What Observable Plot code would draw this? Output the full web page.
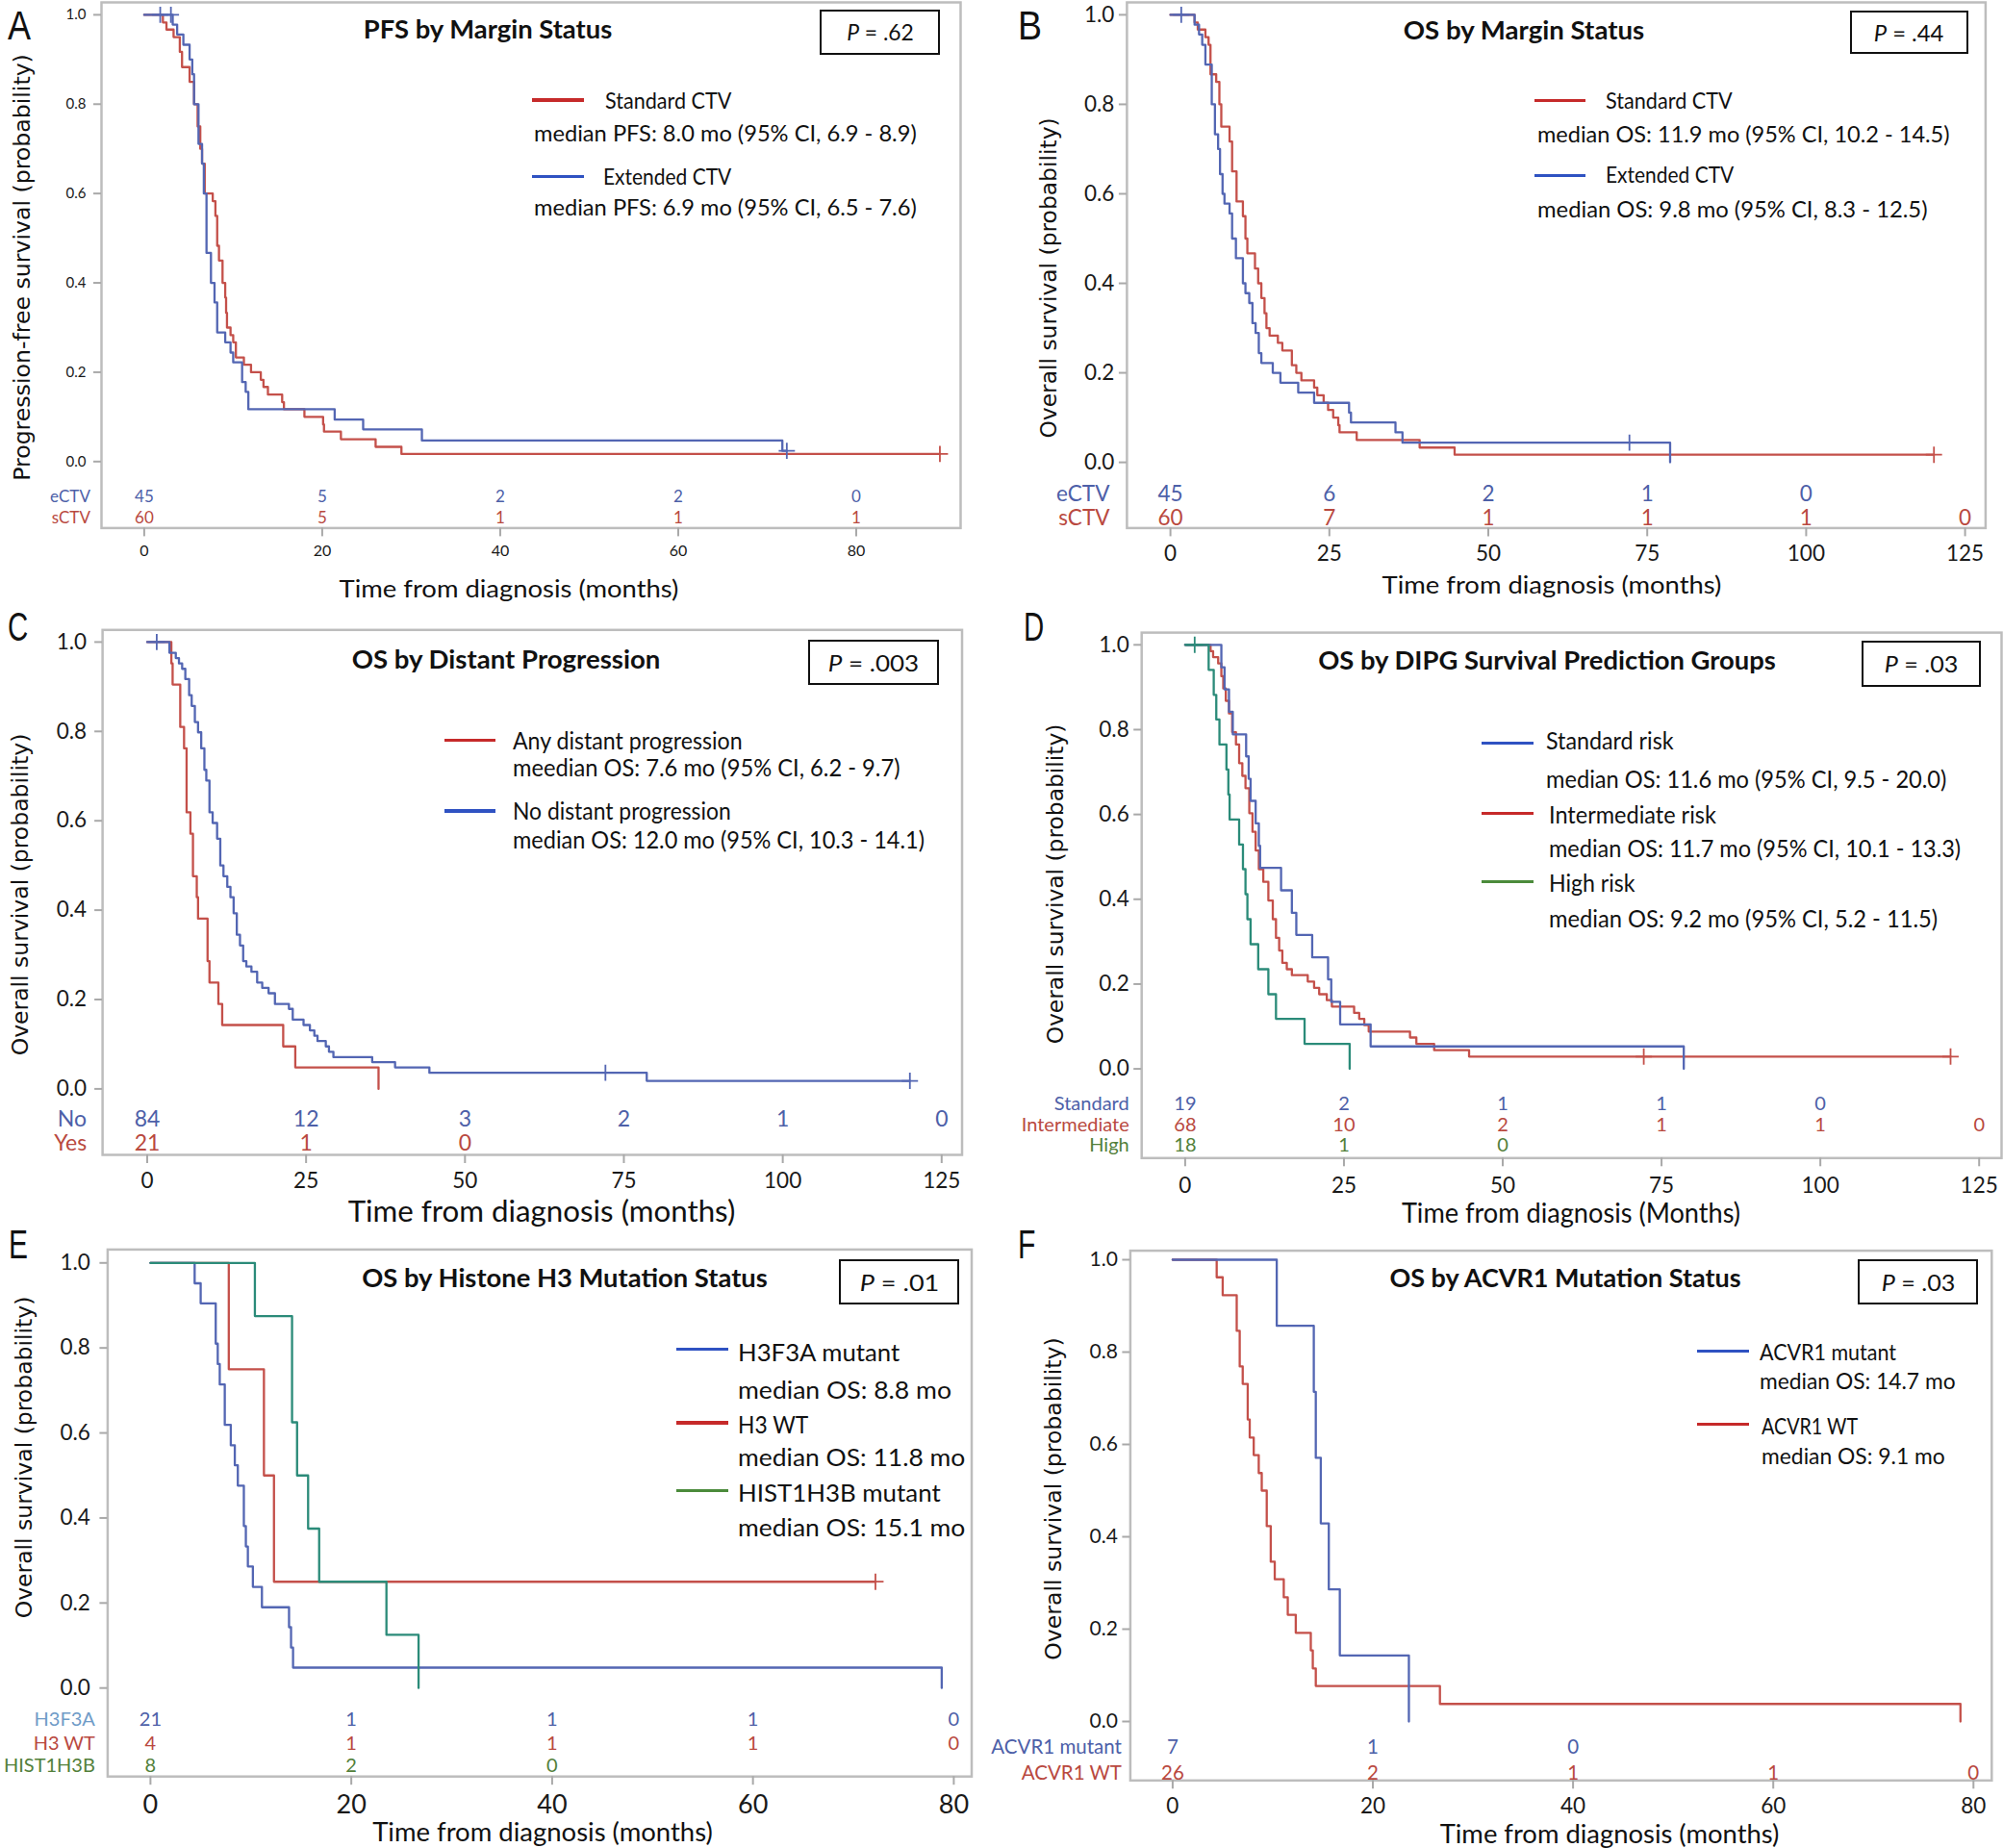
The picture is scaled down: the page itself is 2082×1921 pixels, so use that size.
<!DOCTYPE html>
<html><head><meta charset="utf-8">
<script src="https://cdn.jsdelivr.net/npm/d3@7"></script>
<script src="https://cdn.jsdelivr.net/npm/@observablehq/plot@0.6"></script>
<style>
html,body{margin:0;padding:0;background:#fff;}
#fig{position:relative;width:2082px;height:1921px;overflow:hidden;background:#fff;}
.t{position:absolute;white-space:nowrap;line-height:0.8;}
.ln{position:absolute;}
.pb{position:absolute;box-sizing:border-box;border:2.5px solid #111;background:#fff;}
svg{overflow:visible;}
</style></head>
<body><div id="fig"></div>
<script>
// ================= DATA =================
// Panel A: PFS by margin status
const aTicks = [0, 20, 40, 60, 80];
const aStdTimes = [2.1, 2.5, 3.3, 4.0, 4.25, 5.1, 5.6, 6.0, 6.3, 6.5, 6.8, 7.7, 8.0, 8.2, 8.4, 8.8, 9.1, 9.2, 9.3, 9.7, 10.0, 10.3, 11.2, 12.0, 13.1, 13.4, 13.9, 15.5, 15.7, 18.0, 20.1, 20.2, 22.1, 26.0, 28.9];
const aStdSurv = [0.983, 0.967, 0.95, 0.917, 0.883, 0.85, 0.8, 0.75, 0.7, 0.667, 0.6, 0.583, 0.55, 0.483, 0.45, 0.4, 0.367, 0.333, 0.3, 0.283, 0.267, 0.233, 0.217, 0.2, 0.183, 0.167, 0.15, 0.133, 0.117, 0.1, 0.083, 0.067, 0.05, 0.033, 0.017];
const aStdCensor = [89.4];
const aExtTimes = [3.2, 3.7, 4.4, 5.1, 5.4, 5.6, 6.1, 6.5, 6.7, 7.0, 7.5, 7.9, 8.2, 9.1, 9.7, 10.0, 11.0, 11.4, 11.7, 21.4, 24.6, 31.2, 71.7];
const aExtSurv = [0.978, 0.956, 0.933, 0.9, 0.867, 0.8, 0.711, 0.667, 0.6, 0.467, 0.4, 0.356, 0.289, 0.267, 0.244, 0.222, 0.178, 0.156, 0.117, 0.094, 0.072, 0.047, 0.024];
const aExtCensor = [1.8, 3.0, 72.2];
const aRiskExt = [45, 5, 2, 2, 0];
const aRiskStd = [60, 5, 1, 1, 1];

// Panel B: OS by margin status
const bTicks = [0, 25, 50, 75, 100, 125];
const bStdTimes = [3.8, 4.3, 5.5, 6.0, 6.3, 7.2, 7.7, 8.0, 9.3, 9.7, 10.4, 11.4, 11.8, 12.1, 13.3, 13.8, 14.3, 14.8, 15.1, 15.6, 16.9, 17.6, 19.1, 19.8, 20.6, 22.6, 23.1, 24.1, 24.8, 25.6, 26.4, 26.6, 29.3, 39.2, 44.7];
const bStdSurv = [0.983, 0.967, 0.95, 0.933, 0.867, 0.85, 0.8, 0.75, 0.717, 0.65, 0.583, 0.55, 0.5, 0.467, 0.433, 0.4, 0.367, 0.333, 0.3, 0.283, 0.267, 0.25, 0.217, 0.2, 0.183, 0.167, 0.15, 0.133, 0.117, 0.1, 0.083, 0.067, 0.05, 0.033, 0.017];
const bStdCensor = [120.1];
const bExtTimes = [3.8, 4.5, 5.0, 5.5, 6.5, 7.0, 7.5, 7.8, 8.2, 8.5, 9.3, 9.7, 10.3, 11.4, 11.8, 12.4, 12.9, 13.4, 13.9, 14.3, 16.1, 17.3, 20.1, 22.6, 28.1, 28.4, 35.4, 36.5, 78.6];
const bExtSurv = [0.978, 0.956, 0.933, 0.889, 0.8, 0.733, 0.7, 0.644, 0.6, 0.578, 0.556, 0.5, 0.456, 0.4, 0.378, 0.356, 0.311, 0.289, 0.244, 0.222, 0.2, 0.178, 0.156, 0.133, 0.111, 0.089, 0.067, 0.044, 0];
const bExtCensor = [1.7, 72.2];
const bRiskExt = [45, 6, 2, 1, 0];
const bRiskStd = [60, 7, 1, 1, 1, 0];

// Panel C: OS by distant progression
const cTicks = [0, 25, 50, 75, 100, 125];
const cNoTimes = [3.5, 4.5, 5.0, 5.5, 6.0, 6.6, 7.0, 7.5, 8.0, 8.5, 9.0, 9.3, 9.8, 10.3, 11.0, 11.5, 12.0, 12.6, 13.1, 13.6, 14.1, 14.6, 15.1, 15.6, 16.4, 17.3, 18.1, 19.1, 20.1, 22.3, 22.9, 24.6, 25.6, 26.3, 26.8, 28.1, 28.6, 29.3, 35.4, 39.0, 44.4, 78.6];
const cNoSurv = [0.976, 0.964, 0.952, 0.94, 0.917, 0.881, 0.857, 0.821, 0.798, 0.762, 0.714, 0.69, 0.619, 0.595, 0.56, 0.5, 0.476, 0.452, 0.429, 0.393, 0.345, 0.321, 0.286, 0.274, 0.262, 0.238, 0.226, 0.214, 0.19, 0.179, 0.155, 0.143, 0.131, 0.119, 0.107, 0.095, 0.083, 0.071, 0.06, 0.048, 0.036, 0.018];
const cNoCensor = [1.5, 72.1, 120];
const cYesTimes = [3.8, 4.0, 5.2, 5.8, 6.2, 6.8, 7.2, 7.8, 8.0, 9.5, 9.8, 11.2, 11.8, 21.4, 23.3, 36.4];
const cYesSurv = [0.952, 0.905, 0.81, 0.762, 0.619, 0.571, 0.476, 0.429, 0.381, 0.286, 0.238, 0.19, 0.143, 0.095, 0.048, 0];
const cYesCensor = [];
const cRiskNo = [84, 12, 3, 2, 1, 0];
const cRiskYes = [21, 1, 0];

// Panel D: OS by DIPG survival prediction groups
const dTicks = [0, 25, 50, 75, 100, 125];
const dStdTimes = [5.7, 6.2, 6.9, 7.5, 9.6, 10.0, 10.3, 11.1, 11.6, 11.8, 15.1, 16.8, 17.5, 20.0, 22.5, 23.0, 24.4, 29.2, 78.5];
const dStdSurv = [0.947, 0.895, 0.842, 0.789, 0.737, 0.684, 0.632, 0.579, 0.526, 0.474, 0.421, 0.368, 0.316, 0.263, 0.211, 0.158, 0.105, 0.053, 0];
const dStdCensor = [];
const dIntTimes = [4.0, 4.4, 5.2, 5.7, 6.0, 6.4, 6.9, 7.4, 8.0, 8.5, 9.0, 9.5, 10.1, 10.6, 11.1, 11.6, 12.3, 13.1, 13.8, 14.3, 14.8, 15.3, 16.0, 16.8, 19.3, 20.3, 21.1, 22.3, 23.1, 26.6, 27.4, 28.2, 28.9, 35.4, 36.4, 39.2, 44.7];
const dIntSurv = [0.985, 0.971, 0.956, 0.926, 0.897, 0.868, 0.838, 0.794, 0.765, 0.721, 0.691, 0.662, 0.603, 0.559, 0.515, 0.471, 0.441, 0.397, 0.353, 0.309, 0.279, 0.25, 0.235, 0.221, 0.206, 0.191, 0.176, 0.162, 0.147, 0.132, 0.118, 0.103, 0.088, 0.074, 0.059, 0.044, 0.029];
const dIntCensor = [72.2, 120.5];
const dHighTimes = [3.7, 4.5, 4.9, 5.4, 6.5, 6.8, 7.0, 8.5, 9.1, 9.5, 9.8, 10.3, 11.5, 13.1, 14.3, 18.8, 25.9];
const dHighSurv = [0.941, 0.882, 0.824, 0.765, 0.706, 0.647, 0.588, 0.529, 0.471, 0.412, 0.353, 0.294, 0.235, 0.176, 0.118, 0.059, 0];
const dHighCensor = [1.5];
const dRiskStd = [19, 2, 1, 1, 0];
const dRiskInt = [68, 10, 2, 1, 1, 0];
const dRiskHigh = [18, 1, 0];

// Panel E: OS by histone H3 mutation status
const eTicks = [0, 20, 40, 60, 80];
const eH3Times = [4.4, 5.0, 6.5, 6.7, 6.9, 7.4, 8.0, 8.4, 8.7, 9.3, 9.5, 9.7, 10.2, 11.1, 13.8, 14.0, 14.2, 78.8];
const eH3Surv = [0.952, 0.905, 0.81, 0.762, 0.714, 0.619, 0.571, 0.524, 0.476, 0.381, 0.333, 0.286, 0.238, 0.19, 0.143, 0.095, 0.048, 0];
const eH3Censor = [];
const eWtTimes = [7.8, 11.3, 12.3];
const eWtSurv = [0.75, 0.5, 0.25];
const eWtCensor = [72.2];
const eHistTimes = [10.4, 14.1, 14.6, 15.7, 16.8, 23.5, 26.7];
const eHistSurv = [0.875, 0.625, 0.5, 0.375, 0.25, 0.125, 0];
const eHistCensor = [];
const eRiskH3 = [21, 1, 1, 1, 0];
const eRiskWt = [4, 1, 1, 1, 0];
const eRiskHist = [8, 2, 0];

// Panel F: OS by ACVR1 mutation status
const fTicks = [0, 20, 40, 60, 80];
const fMutTimes = [10.4, 14.1, 14.3, 14.8, 15.6, 16.7, 23.6];
const fMutSurv = [0.857, 0.714, 0.571, 0.429, 0.286, 0.143, 0];
const fMutCensor = [];
const fWtTimes = [4.4, 5.0, 6.4, 6.7, 7.0, 7.5, 7.7, 8.1, 8.6, 8.9, 9.4, 9.8, 10.2, 11.1, 11.5, 12.3, 13.8, 14.0, 14.3, 26.7, 78.7];
const fWtSurv = [0.962, 0.923, 0.846, 0.769, 0.731, 0.654, 0.615, 0.577, 0.538, 0.5, 0.423, 0.346, 0.308, 0.269, 0.231, 0.192, 0.154, 0.115, 0.077, 0.038, 0];
const fWtCensor = [];
const fRiskMut = [7, 1, 0];
const fRiskWt = [26, 2, 1, 1, 0];

const yTicks = [0, 0.2, 0.4, 0.6, 0.8, 1.0];

// ================= STYLE / LAYOUT =================
const FONT = "Lato, 'Open Sans', 'Noto Sans', sans-serif";
const YFONT = "'DejaVu Sans', Verdana, sans-serif";
const LFONT = "'Liberation Sans', Arimo, Lato, sans-serif";
const C = {
  red: "#c4504a", blue: "#5366b3", teal: "#2b8b79",
  lRed: "#c62a2a", lBlue: "#2f52c2", lGreen: "#4b8b3b",
  rBlue: "#4d60a8", rRed: "#b9493f", rGreen: "#52803a", rLight: "#6f9bc7"
};

const panels = [
  { box: [0, 0, 1030, 640], frame: [105, 2, 998, 548.4], ticks: aTicks, xPx: [149.4, 889.5], yPx: [479.3, 14.9],
    yFont: 15, yGap: 16, xFont: 16, xPad: 9, riskFont: 17, labelDx: -11.6,
    series: [
      {times: aStdTimes, surv: aStdSurv, censor: aStdCensor, color: C.red},
      {times: aExtTimes, surv: aExtSurv, censor: aExtCensor, color: C.blue}],
    rows: [
      {label: "eCTV", counts: aRiskExt, color: C.rBlue, cy: 516.3},
      {label: "sCTV", counts: aRiskStd, color: C.rRed, cy: 538.4}] },
  { box: [1035, 0, 1047, 640], frame: [1170.9, 2, 2063.4, 548.4], ticks: bTicks, xPx: [1216.1, 2042.1], yPx: [480.1, 14.9],
    yFont: 22.5, yGap: 13, xFont: 22.5, xPad: 9, riskFont: 22.5, labelDx: -18,
    series: [
      {times: bStdTimes, surv: bStdSurv, censor: bStdCensor, color: C.red},
      {times: bExtTimes, surv: bExtSurv, censor: bExtCensor, color: C.blue}],
    rows: [
      {label: "eCTV", counts: bRiskExt, color: C.rBlue, cy: 513.5},
      {label: "sCTV", counts: bRiskStd, color: C.rRed, cy: 538.4}] },
  { box: [0, 630, 1030, 650], frame: [106.1, 654.3, 999.5, 1200], ticks: cTicks, xPx: [152.5, 978.3], yPx: [1131.4, 666.9],
    yFont: 22.5, yGap: 16.5, xFont: 22.5, xPad: 9.4, riskFont: 23, labelDx: -16.5,
    series: [
      {times: cYesTimes, surv: cYesSurv, censor: cYesCensor, color: C.red},
      {times: cNoTimes, surv: cNoSurv, censor: cNoCensor, color: C.blue}],
    rows: [
      {label: "No", counts: cRiskNo, color: C.rBlue, cy: 1163},
      {label: "Yes", counts: cRiskYes, color: C.rRed, cy: 1188}] },
  { box: [1035, 630, 1047, 650], frame: [1186.2, 657.1, 2080, 1203.3], ticks: dTicks, xPx: [1231.4, 2056.7], yPx: [1110.6, 669.8],
    yFont: 22.5, yGap: 13, xFont: 22.5, xPad: 11.4, riskFont: 20, labelDx: -13,
    series: [
      {times: dIntTimes, surv: dIntSurv, censor: dIntCensor, color: C.red},
      {times: dStdTimes, surv: dStdSurv, censor: dStdCensor, color: C.blue},
      {times: dHighTimes, surv: dHighSurv, censor: dHighCensor, color: C.teal}],
    rows: [
      {label: "Standard", counts: dRiskStd, color: C.rBlue, cy: 1147},
      {label: "Intermediate", counts: dRiskInt, color: C.rRed, cy: 1169.5},
      {label: "High", counts: dRiskHigh, color: C.rGreen, cy: 1190.5}] },
  { box: [0, 1270, 1030, 651], frame: [111.4, 1298.4, 1009.5, 1846.2], ticks: eTicks, xPx: [155.9, 990.9], yPx: [1754.2, 1312.3],
    yFont: 22.5, yGap: 18, xFont: 27, xPad: 9.7, riskFont: 20, labelDx: -13,
    series: [
      {times: eWtTimes, surv: eWtSurv, censor: eWtCensor, color: C.red},
      {times: eH3Times, surv: eH3Surv, censor: eH3Censor, color: C.blue},
      {times: eHistTimes, surv: eHistSurv, censor: eHistCensor, color: C.teal}],
    rows: [
      {label: "H3F3A", counts: eRiskH3, color: C.rBlue, labelColor: C.rLight, cy: 1787},
      {label: "H3 WT", counts: eRiskWt, color: C.rRed, cy: 1811.7},
      {label: "HIST1H3B", counts: eRiskHist, color: C.rGreen, cy: 1835}] },
  { box: [1000, 1270, 1082, 651], frame: [1174.4, 1299.6, 2069.8, 1850.3], ticks: fTicks, xPx: [1218.4, 2050.8], yPx: [1789, 1309],
    yFont: 21, yGap: 13, xFont: 22.5, xPad: 9.6, riskFont: 20.5, labelDx: -9,
    series: [
      {times: fWtTimes, surv: fWtSurv, censor: fWtCensor, color: C.red},
      {times: fMutTimes, surv: fMutSurv, censor: fMutCensor, color: C.blue}],
    rows: [
      {label: "ACVR1 mutant", counts: fRiskMut, color: C.rBlue, cy: 1815.6},
      {label: "ACVR1 WT", counts: fRiskWt, color: C.rRed, cy: 1842.8}] }
];

// overlays: letters, titles, P boxes, legends, axis titles
const overlays = [
  { letter: ["A", 8, 27, 24], title: ["PFS by Margin Status", 506.5, 30, 259], p: [[852.3, 10, 976.7, 56.7], ".62", 70],
    xTitle: ["Time from diagnosis (months)", 528.5, 610.7, 353, 25], yTitle: ["Progression-free survival (probability)", 22.5, 278, 444],
    legSize: 23,
    legend: [
      {line: [553, 607, 104, C.lRed], text: ["Standard CTV", 629.3, 104, 131.3]},
      {text: ["median PFS: 8.0 mo (95% CI, 6.9 - 8.9)", 555, 138.3, 398]},
      {line: [553, 607, 183.3, C.lBlue], text: ["Extended CTV", 626.7, 183.3, 133]},
      {text: ["median PFS: 6.9 mo (95% CI, 6.5 - 7.6)", 555, 215, 398]}] },
  { letter: ["B", 1058, 27, 25], title: ["OS by Margin Status", 1583.6, 31.3, 250], p: [[1922.5, 10.8, 2045.5, 56.2], ".44", 73],
    xTitle: ["Time from diagnosis (months)", 1613, 606.7, 353, 25], yTitle: ["Overall survival (probability)", 1090, 289, 333.5],
    legSize: 24,
    legend: [
      {line: [1594.9, 1648, 104.5, C.lRed], text: ["Standard CTV", 1669.3, 104, 131.6]},
      {text: ["median OS: 11.9 mo (95% CI, 10.2 - 14.5)", 1598, 138.6, 428.6]},
      {line: [1594.9, 1648, 182.8, C.lBlue], text: ["Extended CTV", 1669.3, 181, 133.6]},
      {text: ["median OS: 9.8 mo (95% CI, 8.3 - 12.5)", 1598, 217, 405.4]}] },
  { letter: ["C", 8, 652, 21], title: ["OS by Distant Progression", 526, 685, 321], p: [[839.7, 665.3, 976.3, 712.2], ".003", 94],
    xTitle: ["Time from diagnosis (months)", 563, 1258, 402.5, 30], yTitle: ["Overall survival (probability)", 21, 929.5, 335],
    legSize: 25,
    legend: [
      {line: [462.3, 515.4, 769.4, C.lRed], text: ["Any distant progression", 532.6, 769, 238.8]},
      {text: ["meedian OS: 7.6 mo (95% CI, 6.2 - 9.7)", 532.6, 797, 402.6]},
      {line: [462.3, 515.4, 842.9, C.lBlue], text: ["No distant progression", 532.6, 842, 226.8]},
      {text: ["median OS: 12.0 mo (95% CI, 10.3 - 14.1)", 532.6, 871.8, 427.8]}] },
  { letter: ["D", 1063.6, 651.6, 21], title: ["OS by DIPG Survival Prediction Groups", 1608.2, 685.7, 476], p: [[1935, 665.7, 2058.7, 714.3], ".03", 77],
    xTitle: ["Time from diagnosis (Months)", 1632.5, 1260, 352, 28], yTitle: ["Overall survival (probability)", 1096.5, 918.5, 333],
    legSize: 25,
    legend: [
      {line: [1539.7, 1593.6, 772.7, C.lBlue], text: ["Standard risk", 1606.8, 769, 132.2]},
      {text: ["median OS: 11.6 mo (95% CI, 9.5 - 20.0)", 1606.8, 809.4, 416.7]},
      {line: [1539.7, 1593.6, 845.3, C.lRed], text: ["Intermediate risk", 1610.2, 846, 174]},
      {text: ["median OS: 11.7 mo (95% CI, 10.1 - 13.3)", 1610.2, 880.8, 428]},
      {line: [1539.7, 1593.6, 916.7, C.lGreen], text: ["High risk", 1610.2, 916.7, 89.7]},
      {text: ["median OS: 9.2 mo (95% CI, 5.2 - 11.5)", 1610.2, 953.5, 404]}] },
  { letter: ["E", 9.3, 1294, 20], title: ["OS by Histone H3 Mutation Status", 587, 1328.2, 422], p: [[872.2, 1309.4, 996.9, 1355.6], ".01", 83],
    xTitle: ["Time from diagnosis (months)", 563.6, 1903.5, 354, 26], yTitle: ["Overall survival (probability)", 25.2, 1515, 335],
    legSize: 25,
    legend: [
      {line: [703, 757.4, 1402.6, C.lBlue], text: ["H3F3A mutant", 767.4, 1404.7, 167.8]},
      {text: ["median OS: 8.8 mo", 767.4, 1443.5, 222.2]},
      {line: [703, 757.4, 1479.1, C.lRed], text: ["H3 WT", 767.4, 1480.3, 73]},
      {text: ["median OS: 11.8 mo", 767.4, 1513.9, 236]},
      {line: [703, 757.4, 1549.8, C.lGreen], text: ["HIST1H3B mutant", 767.4, 1551, 211]},
      {text: ["median OS: 15.1 mo", 767.4, 1586.6, 236]}] },
  { letter: ["F", 1058, 1294, 18.6], title: ["OS by ACVR1 Mutation Status", 1627, 1328.2, 365], p: [[1930.9, 1309.4, 2056.2, 1356.5], ".03", 77],
    xTitle: ["Time from diagnosis (months)", 1673, 1905.5, 353, 26], yTitle: ["Overall survival (probability)", 1094.5, 1558, 335.6],
    legSize: 24,
    legend: [
      {line: [1763.6, 1817.8, 1404.7, C.lBlue], text: ["ACVR1 mutant", 1829.3, 1404.7, 142.2]},
      {text: ["median OS: 14.7 mo", 1829.3, 1434.5, 203.2]},
      {line: [1763.6, 1817.8, 1480.3, C.lRed], text: ["ACVR1 WT", 1830.7, 1481.6, 100.2]},
      {text: ["median OS: 9.1 mo", 1830.7, 1513, 190.3]}] }
];

// ================= BUILD =================
const fig = document.getElementById("fig");

function km(times, surv, censor) {
  const pts = [{t: 0, s: 1}];
  times.forEach((t, i) => pts.push({t, s: surv[i]}));
  const end = censor.length ? Math.max(...censor) : -Infinity;
  const last = pts[pts.length - 1];
  if (end > last.t) pts.push({t: end, s: last.s});
  return pts;
}
function survAt(times, surv, t) {
  let s = 1;
  times.forEach((tt, i) => { if (tt <= t) s = surv[i]; });
  return s;
}

function buildPanel(p) {
  const [bx, by, bw, bh] = p.box;
  const [fl, ft, fr, fb] = p.frame;
  const xMax = p.ticks[p.ticks.length - 1];
  const marks = [
    Plot.frame({stroke: "#bdbdbd", strokeWidth: 2.5}),
    Plot.axisY(yTicks, {tickFormat: d3.format(".1f"), tickSize: 8, tickPadding: p.yGap - 8, fontSize: p.yFont,
      stroke: "#a9a9a9", strokeWidth: 2, fill: "#1a1a1a", label: null}),
    Plot.axisX(p.ticks, {tickFormat: d => String(d), tickSize: 9, tickPadding: p.xPad, fontSize: p.xFont,
      stroke: "#a9a9a9", strokeWidth: 2, fill: "#1a1a1a", label: null})
  ];
  for (const s of p.series) {
    marks.push(Plot.line(km(s.times, s.surv, s.censor), {x: "t", y: "s", curve: "step-after", stroke: s.color, strokeWidth: 2.3}));
    if (s.censor.length) {
      marks.push(Plot.dot(s.censor.map(t => ({t, s: survAt(s.times, s.surv, t)})),
        {x: "t", y: "s", symbol: "plus", r: 5.5, stroke: s.color, strokeWidth: 1.8}));
    }
  }
  for (const r of p.rows) {
    const dy = r.cy - p.yPx[0];
    marks.push(Plot.text(r.counts, {x: (d, i) => p.ticks[i], y: () => 0, text: d => String(d), dy,
      fill: r.color, fontSize: p.riskFont}));
    marks.push(Plot.text([r.label], {frameAnchor: "left", y: () => 0, text: d => d, dy, dx: p.labelDx,
      textAnchor: "end", fill: r.labelColor || r.color, fontSize: p.riskFont}));
  }
  const svg = Plot.plot({
    width: bw, height: bh,
    marginLeft: fl - bx, marginTop: ft - by, marginRight: bx + bw - fr, marginBottom: by + bh - fb,
    style: {fontFamily: FONT, background: "transparent", overflow: "visible", color: "#1a1a1a"},
    x: {domain: [0, xMax], range: [p.xPx[0] - bx, p.xPx[1] - bx]},
    y: {domain: [0, 1], range: [p.yPx[0] - by, p.yPx[1] - by]},
    marks
  });
  const wrap = document.createElement("div");
  wrap.style.cssText = `position:absolute;left:${bx}px;top:${by}px;width:${bw}px;height:${bh}px;`;
  wrap.appendChild(svg);
  fig.appendChild(wrap);
}

const fits = [];
function txt(html, o) {
  const el = document.createElement("div");
  el.className = "t";
  el.innerHTML = html;
  el.style.fontFamily = o.font || FONT;
  el.style.fontSize = o.size + "px";
  el.style.fontWeight = o.bold ? "700" : "400";
  el.style.color = o.color || "#111";
  el.style.left = o.x + "px";
  el.style.top = o.y + "px";
  fig.appendChild(el);
  fits.push({el, o});
}
function applyFit() {
  for (const {el, o} of fits) {
    el.style.transform = "none";
    const w = el.offsetWidth;
    const s = o.w ? o.w / w : 1;
    const rot = o.rotate ? " rotate(-90deg)" : "";
    if (o.anchor === "middle") {
      el.style.transformOrigin = "50% 50%";
      el.style.transform = `translate(-50%,-50%)${rot} scaleX(${s})`;
    } else {
      el.style.transformOrigin = "0 50%";
      el.style.transform = `translate(0,-50%) scaleX(${s})`;
    }
  }
}
function hline(x1, x2, y, color) {
  const el = document.createElement("div");
  el.className = "ln";
  el.style.cssText = `left:${x1}px;top:${y - 1.7}px;width:${x2 - x1}px;height:3.4px;background:${color};`;
  fig.appendChild(el);
}

panels.forEach(buildPanel);

for (const o of overlays) {
  const [L, lx, ly, lw] = o.letter;
  txt(L, {x: lx, y: ly, size: 42, w: lw, font: LFONT});
  const [T, tx, ty, tw] = o.title;
  txt(T, {x: tx, y: ty, size: 27.5, bold: true, w: tw, anchor: "middle"});
  const [[px1, py1, px2, py2], pv, pw] = o.p;
  const box = document.createElement("div");
  box.className = "pb";
  box.style.cssText += `left:${px1}px;top:${py1}px;width:${px2 - px1}px;height:${py2 - py1}px;`;
  fig.appendChild(box);
  txt(`<i>P</i> = ${pv}`, {x: (px1 + px2) / 2, y: (py1 + py2) / 2, size: 23.5, w: pw, anchor: "middle"});
  for (const it of o.legend) {
    if (it.line) hline(it.line[0], it.line[1], it.line[2], it.line[3]);
    const [s, x, y, w] = it.text;
    txt(s, {x, y, size: o.legSize, w});
  }
  const [XT, xx, xy, xw, xs] = o.xTitle;
  txt(XT, {x: xx, y: xy, size: xs, w: xw, anchor: "middle"});
  const [YT, yx, yy, yw] = o.yTitle;
  txt(YT, {x: yx, y: yy, size: 23.5, w: yw, anchor: "middle", rotate: true, font: YFONT});
}
applyFit();
if (document.fonts && document.fonts.ready) document.fonts.ready.then(applyFit);
</script>
</body></html>
